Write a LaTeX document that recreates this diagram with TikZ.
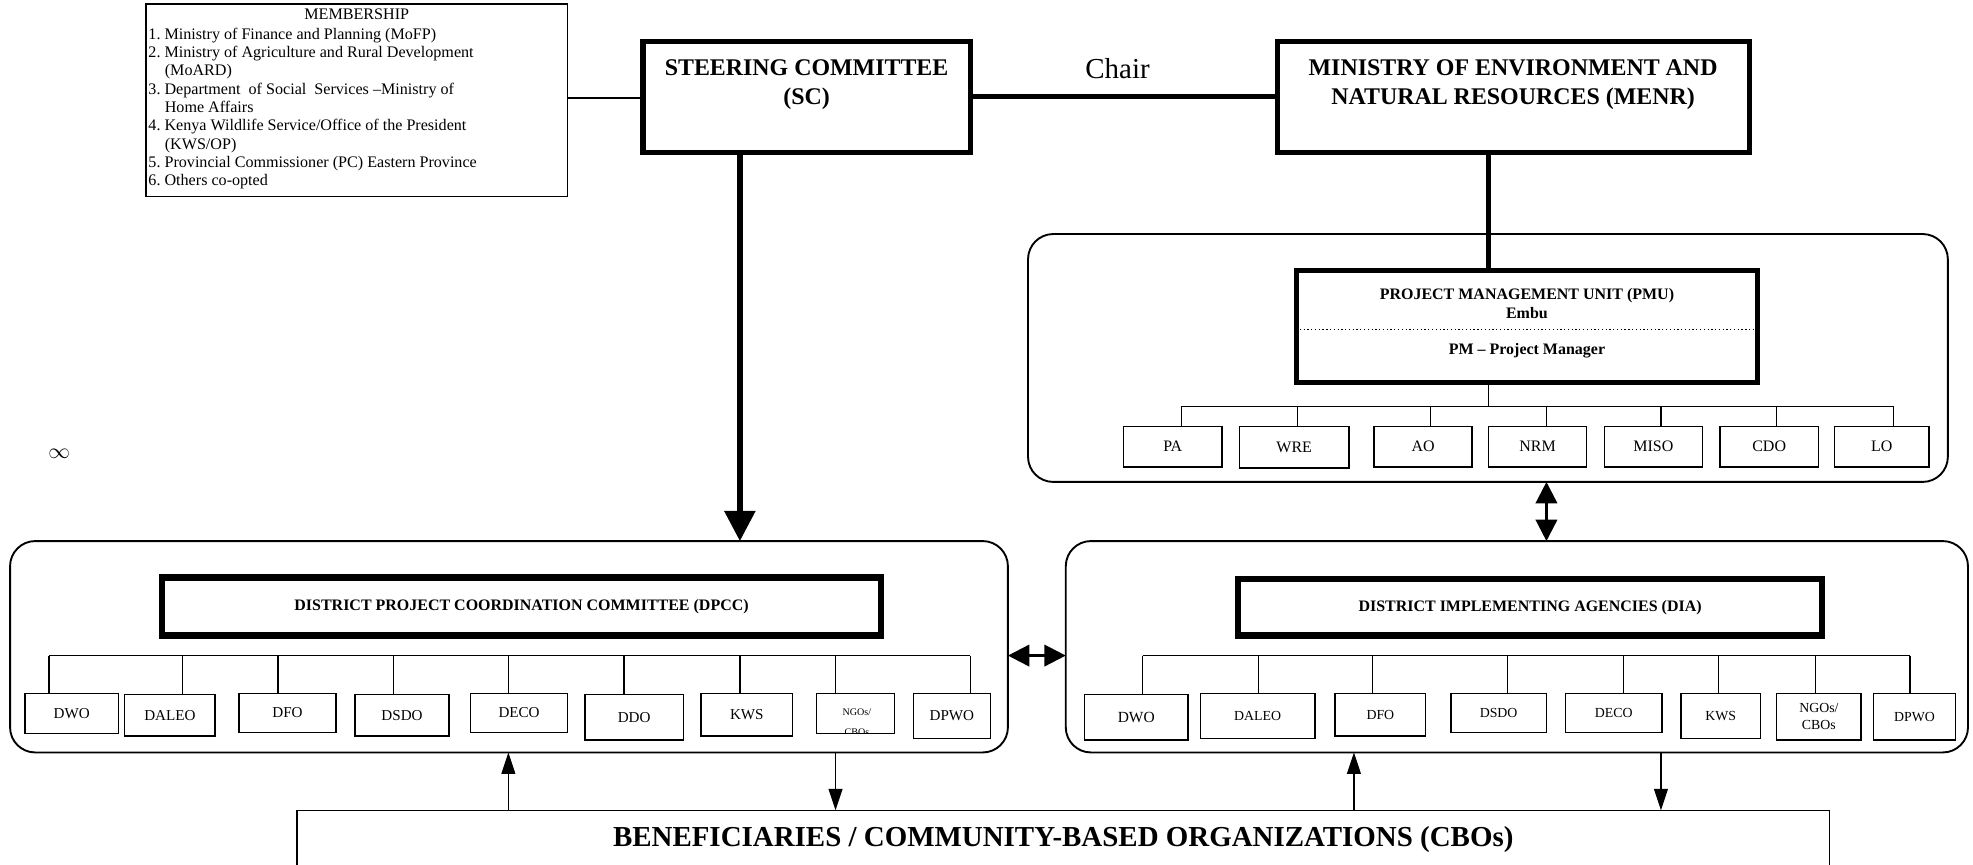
\documentclass[tikz,border=0pt]{standalone}
\usepackage{fontspec}
\setmainfont{Liberation Serif}
\usetikzlibrary{arrows.meta, calc}

\begin{document}
\begin{tikzpicture}[x=1pt, y=-1pt,
  every node/.style={font=\fontsize{12.7}{14.6}\selectfont, inner sep=0pt, outer sep=0pt},
  heavybox/.style={draw, line width=4pt},
  thickbox/.style={draw, line width=5pt},
  wrapbox/.style={draw, line width=1.5pt, rounded corners=20pt},
  unitbox/.style={draw, line width=1.2pt},
  titletext/.style={font=\fontsize{12.7}{15}\selectfont\bfseries, align=center},
  tree/.style={line width=1pt},
  bigarrow/.style={line width=4.2pt, -{Triangle[length=24pt, width=24pt]}},
  linkarrow/.style={line width=2pt, {Triangle[length=17pt, width=17pt]}-{Triangle[length=17pt, width=17pt]}},
  flowarrow/.style={line width=1pt, -{Triangle[length=17pt, width=11pt]}}]
  \useasboundingbox (0,0) rectangle (1568,687);

  % top row
  \node[draw, line width=1.2pt, minimum width=335, minimum height=153] (mem) at (283.5,79.5) {};
  \node[font=\fontsize{12.8}{14.6}\selectfont] (memhead) at (283.5,11) {MEMBERSHIP};
  \node[anchor=north west, align=left, font=\fontsize{12.8}{14.6}\selectfont\frenchspacing] (memlist) at (118,22)
    {1. Ministry of Finance and Planning (MoFP)\\
     2. Ministry of Agriculture and Rural Development\\
     \hspace*{13pt}(MoARD)\\
     3. Department\ \ of Social\ \ Services --Ministry of\\
     \hspace*{13pt}Home Affairs\\
     4. Kenya Wildlife Service/Office of the President\\
     \hspace*{13pt}(KWS/OP)\\
     5. Provincial Commissioner (PC) Eastern Province\\
     6. Others co-opted};
  \node[heavybox, minimum width=260, minimum height=88, align=center, font=\fontsize{19}{23}\selectfont\bfseries] (sc) at (641,77)
    {STEERING COMMITTEE\\(SC)\\\mbox{}};
  \node[heavybox, minimum width=375, minimum height=88, align=center, font=\fontsize{19}{23}\selectfont\bfseries] (menr) at (1202.5,77)
    {MINISTRY OF ENVIRONMENT AND\\NATURAL RESOURCES (MENR)\\\mbox{}};
  \draw[line width=1.2pt] (mem.east |- 0,78) -- (sc.west |- 0,78);
  \draw[line width=4pt] (sc.east) -- (menr.west)
    node[pos=0.48, above=14pt, font=\fontsize{23}{26}\selectfont] (chair) {Chair};

  % project management unit
  \node[wrapbox, minimum width=731, minimum height=197] (pmuwrap) at (1182.5,284.5) {};
  \node[heavybox, minimum width=367, minimum height=89] (pmu) at (1213.5,259.5) {};
  \node[titletext] (pmutitle) at (1213.5,241) {PROJECT MANAGEMENT UNIT (PMU)\\Embu};
  \draw[dotted, line width=1pt] (pmu.west |- 0,262) -- (pmu.east |- 0,262);
  \node[titletext] (pmtext) at (1213.5,279) {PM -- Project Manager};
  \draw[line width=4pt] ([xshift=-30.5pt]pmu.north) -- ([xshift=-30.5pt]pmu.north |- menr.south);

  \node[unitbox, minimum width=78, minimum height=32] (pa) at (932,355) {PA};
  \node[unitbox, minimum width=87, minimum height=33] (wre) at (1028.5,355.5) {WRE};
  \node[unitbox, minimum width=78, minimum height=32] (ao) at (1131,355) {AO};
  \node[unitbox, minimum width=78, minimum height=32] (nrm) at (1222,355) {NRM};
  \node[unitbox, minimum width=78, minimum height=32] (miso) at (1314,355) {MISO};
  \node[unitbox, minimum width=78, minimum height=32] (cdo) at (1406,355) {CDO};
  \node[unitbox, minimum width=75, minimum height=32] (lo) at (1495.5,355) {LO};
  \draw[tree] ([xshift=-30.5pt]pmu.south) -- ++(0,19);
  \draw[tree, line width=1.4pt] (939,323) -- (1505,323);
  \foreach \n/\x in {pa/939, wre/1031, ao/1137, nrm/1229, miso/1320, cdo/1412, lo/1505}
    \draw[tree] (\x,323) -- (\n.north -| \x,0);

  % district project coordination committee
  \node[wrapbox, minimum width=793, minimum height=168] (dpccwrap) at (404.5,514) {};
  \node[thickbox, minimum width=571, minimum height=46, titletext, text depth=2pt] (dpcc) at (414.5,482)
    {DISTRICT PROJECT COORDINATION COMMITTEE (DPCC)};
  \node[unitbox, minimum width=74, minimum height=32, font=\fontsize{12}{14}\selectfont] (dwoA) at (57,567) {DWO};
  \node[unitbox, minimum width=72, minimum height=33, font=\fontsize{12}{14}\selectfont] (daleoA) at (135,568.5) {DALEO};
  \node[unitbox, minimum width=77, minimum height=31, font=\fontsize{12}{14}\selectfont] (dfoA) at (228.5,566.5) {DFO};
  \node[unitbox, minimum width=75, minimum height=33, font=\fontsize{12}{14}\selectfont] (dsdoA) at (319.5,568.5) {DSDO};
  \node[unitbox, minimum width=77, minimum height=31, font=\fontsize{12}{14}\selectfont] (decoA) at (412.5,566.5) {DECO};
  \node[unitbox, minimum width=78, minimum height=36, font=\fontsize{12}{14}\selectfont] (ddoA) at (504,570) {DDO};
  \node[unitbox, minimum width=73, minimum height=34, font=\fontsize{12}{14}\selectfont] (kwsA) at (593.5,568) {KWS};
  \node[unitbox, minimum width=62, minimum height=32] (ngoA) at (680,567) {};
  \begin{scope}
    \clip (ngoA.south west) rectangle (ngoA.north east);
    \node[align=center, font=\fontsize{8}{16}\selectfont] (ngoAtext) at (681,574) {NGOs/\\CBOs};
  \end{scope}
  \node[unitbox, minimum width=61, minimum height=36, font=\fontsize{12}{14}\selectfont] (dpwoA) at (756.5,569) {DPWO};
  \draw[tree, line width=1.4pt] (39,521) -- (771,521);
  \foreach \n/\x in {dwoA/39, daleoA/145, dfoA/221, dsdoA/313, decoA/404, ddoA/496, kwsA/588, ngoA/664, dpwoA/771}
    \draw[tree] (\x,521) -- (\n.north -| \x,0);

  % district implementing agencies
  \node[wrapbox, minimum width=717, minimum height=168] (diawrap) at (1205.5,514) {};
  \node[thickbox, minimum width=464, minimum height=45, titletext, text depth=2pt] (dia) at (1216,482.5)
    {DISTRICT IMPLEMENTING AGENCIES (DIA)};
  \node[unitbox, minimum width=82, minimum height=36, font=\fontsize{12.3}{14}\selectfont] (dwoB) at (903,570) {DWO};
  \node[unitbox, minimum width=91, minimum height=36, font=\fontsize{11}{13}\selectfont] (daleoB) at (999.5,569) {DALEO};
  \node[unitbox, minimum width=72, minimum height=34, font=\fontsize{11}{13}\selectfont] (dfoB) at (1097,568) {DFO};
  \node[unitbox, minimum width=76, minimum height=31, font=\fontsize{11}{13}\selectfont] (dsdoB) at (1191,566.5) {DSDO};
  \node[unitbox, minimum width=77, minimum height=31, font=\fontsize{11}{13}\selectfont] (decoB) at (1282.5,566.5) {DECO};
  \node[unitbox, minimum width=63, minimum height=36, font=\fontsize{11}{13}\selectfont] (kwsB) at (1367.5,569) {KWS};
  \node[unitbox, minimum width=67, minimum height=37, align=center, font=\fontsize{11}{14}\selectfont] (ngoB) at (1445.5,569.5) {NGOs/\\CBOs};
  \node[unitbox, minimum width=65, minimum height=37, font=\fontsize{11}{13}\selectfont] (dpwoB) at (1521.5,569.5) {DPWO};
  \draw[tree, line width=1.4pt] (908,521) -- (1518,521);
  \foreach \n/\x in {dwoB/908, daleoB/1000, dfoB/1091, dsdoB/1198, decoB/1290, kwsB/1366, ngoB/1443, dpwoB/1518}
    \draw[tree] (\x,521) -- (\n.north -| \x,0);

  % beneficiaries
  \node[draw, line width=1.2pt, minimum width=1218, minimum height=46, font=\fontsize{23}{26}\selectfont\bfseries] (cbo) at (845,667)
    {BENEFICIARIES / COMMUNITY-BASED ORGANIZATIONS (CBOs)};
  \node[font=\fontsize{17}{20}\selectfont] (infty) at (47,361) {$\infty$};

  % connectors
  \draw[bigarrow] (sc.south -| 588,0) -- (dpccwrap.north -| 588,0);
  \draw[linkarrow] (pmuwrap.south -| 1229,0) -- (diawrap.north -| 1229,0);
  \draw[linkarrow] (dpccwrap.east |- 0,521) -- (diawrap.west |- 0,521);
  \draw[flowarrow] (cbo.north -| 404,0) -- (dpccwrap.south -| 404,0);
  \draw[flowarrow] (dpccwrap.south -| 664,0) -- (cbo.north -| 664,0);
  \draw[flowarrow] (cbo.north -| 1076,0) -- (diawrap.south -| 1076,0);
  \draw[flowarrow] (diawrap.south -| 1320,0) -- (cbo.north -| 1320,0);
\end{tikzpicture}
\end{document}
